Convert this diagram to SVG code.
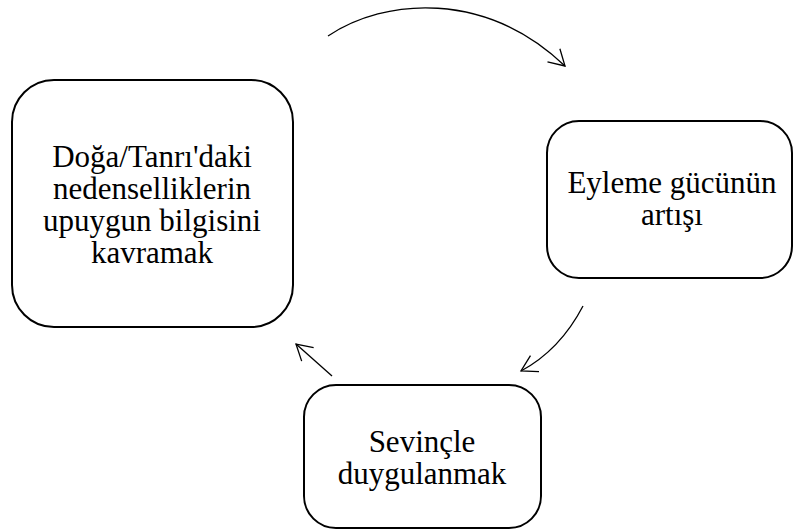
<svg xmlns="http://www.w3.org/2000/svg" width="793" height="530" viewBox="0 0 793 530">
  <style>
    .box { fill: #ffffff; stroke: #000000; stroke-width: 2; }
    .lbl { font-family: "Liberation Serif", "Times New Roman", serif; font-size: 31px; fill: #000000; text-anchor: middle; }
    .conn { fill: none; stroke: #000000; stroke-width: 1.3; marker-end: url(#arrow); }
  </style>
  <defs>
    <marker id="arrow" markerUnits="userSpaceOnUse" orient="auto" markerWidth="40" markerHeight="40" refX="0" refY="0" viewBox="-20 -20 40 40" overflow="visible">
      <path d="M-15.6,-9 L0,0 L-15.6,9" fill="none" stroke="#000000" stroke-width="1.3" stroke-linejoin="miter"/>
    </marker>
  </defs>
  <rect width="793" height="530" fill="#ffffff"/>
  <g id="connectors">
    <path class="conn" d="M328,36 C385,-2 485,-10 565,66"/>
    <path class="conn" d="M583,306 Q560,350 521,371"/>
    <path class="conn" d="M332,376 L296,344"/>
  </g>
  <g id="node-knowledge">
    <rect class="box" x="12" y="80" width="281" height="247" rx="42" ry="42"/>
    <text class="lbl" x="152" y="167">Doğa/Tanrı'daki</text>
    <text class="lbl" x="152" y="199">nedenselliklerin</text>
    <text class="lbl" x="152" y="231">upuygun bilgisini</text>
    <text class="lbl" x="152" y="263">kavramak</text>
  </g>
  <g id="node-power">
    <rect class="box" x="547" y="121" width="245" height="157" rx="32" ry="32"/>
    <text class="lbl" x="672" y="193">Eyleme gücünün</text>
    <text class="lbl" x="672" y="225">artışı</text>
  </g>
  <g id="node-joy">
    <rect class="box" x="304" y="385" width="237" height="143" rx="32" ry="32"/>
    <text class="lbl" x="422" y="452">Sevinçle</text>
    <text class="lbl" x="422" y="484">duygulanmak</text>
  </g>
</svg>
